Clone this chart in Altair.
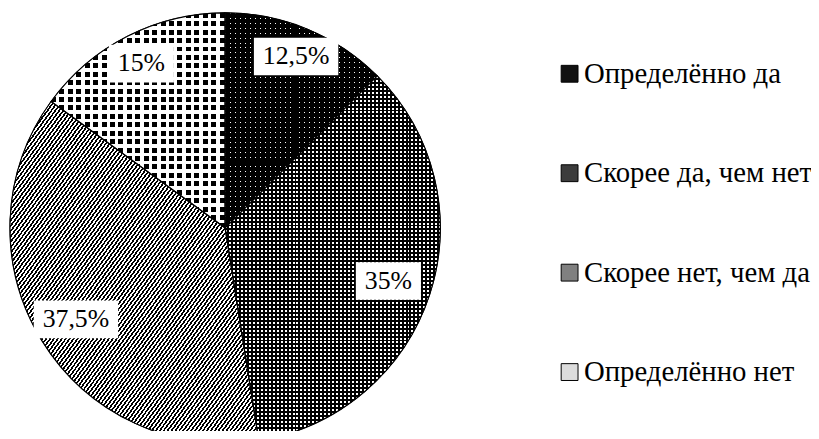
import math
import numpy as np
import pandas as pd
import altair as alt

# ---- data ----
categories = ["Определённо да", "Скорее да, чем нет", "Скорее нет, чем да", "Определённо нет"]
values = [12.5, 35, 37.5, 15]
labels = ["12,5%", "35%", "37,5%", "15%"]

# ---- layout / style ----
W, H = 810, 423
CX, CY = 219, 220
R = 217
FONT = "Liberation Serif"
LABEL_SIZE = 26
LEG_SIZE = 29
grays = ["#111111", "#3c3c3c", "#808080", "#dcdcdc"]
CHAR_W = {"0": .5, "1": .5, "2": .5, "3": .5, "4": .5, "5": .5, "6": .5, "7": .5,
          "8": .5, "9": .5, ",": .25, "%": .833}

total = sum(values)
starts = np.cumsum([0] + values[:-1])
df = pd.DataFrame({"cat": categories, "value": values, "label": labels})
df["start"] = starts
df["end"] = df["start"] + df["value"]
mid = (df["start"] + df["value"] / 2) / total * 2 * math.pi
rfac = 0.79 + 0.085 * np.cos(mid) ** 2
df["lx"] = R * rfac * np.sin(mid)
df["ly"] = R * rfac * np.cos(mid)
tw = df["label"].map(lambda s: sum(CHAR_W.get(c, .5) for c in s) * LABEL_SIZE)
bw = tw + 18
bh = 38
df["x0"] = df["lx"] - bw / 2
df["x1"] = df["lx"] + bw / 2
df["y0"] = df["ly"] - bh / 2
df["y1"] = df["ly"] + bh / 2

xs = alt.Scale(domain=[-CX, W - CX], nice=False, zero=False)
ys = alt.Scale(domain=[CY - H, CY], nice=False, zero=False)
ts = alt.Scale(domain=[0, total], range=[0, 2 * math.pi])

cx = alt.XDatum(0, scale=xs, axis=None)
cy = alt.YDatum(0, scale=ys, axis=None)


def bbox(a0, a1):
    pts = [(0.0, 0.0)]
    for a in [a0, a1] + [k * math.pi / 2 for k in range(5) if a0 < k * math.pi / 2 < a1]:
        pts.append((R * math.sin(a), -R * math.cos(a)))
    xs_ = [p[0] for p in pts]
    ys_ = [p[1] for p in pts]
    return max(xs_) - min(xs_), max(ys_) - min(ys_)


def stops(L, period, on, c_on, c_off):
    out = []
    p = 0.0
    while p < L - 1e-9:
        a = p / L
        b = min(p + on, L) / L
        c = min(p + period, L) / L
        out += [(a, c_on), (b, c_on), (b, c_off), (c, c_off)]
        p += period
    return [{"offset": round(o, 6), "color": col} for o, col in out]


def grad(direction, w, h, period, on, c_on, c_off):
    if direction == "v":
        L, x2, y2 = w, 1, 0
    elif direction == "h":
        L, x2, y2 = h, 0, 1
    else:
        L, x2, y2 = 2 * w * h / math.sqrt(w * w + h * h), 1, 1
    return {"gradient": "linear", "x1": 0, "y1": 0, "x2": x2, "y2": y2,
            "stops": stops(L, period, on, c_on, c_off)}


T = "rgba(0,0,0,0)"
patterns = [
    [("v", 5, 1, "white", "black"), ("h", 5, 1, T, "black")],
    [("v", 4, 2, "white", "black"), ("h", 4, 2, T, "black")],
    [("d", 3.2, 1.6, "black", "white")],
    [("v", 8.5, 5, "black", "white"), ("h", 8.5, 5, T, "white")],
]

base = alt.Chart(df)
arc_enc = dict(theta=alt.Theta("start:Q", scale=ts, stack=None), theta2="end:Q", x=cx, y=cy)

layers = [
    base.mark_arc(outerRadius=R, stroke="black", strokeWidth=1).encode(
        color=alt.Color("cat:N", scale=alt.Scale(domain=categories, range=grays),
                        sort=categories,
                        legend=alt.Legend(title=None, orient="none", legendX=552, legendY=50,
                                          symbolType="square", symbolSize=289,
                                          symbolStrokeColor="black", symbolStrokeWidth=1,
                                          labelFont=FONT, labelFontSize=LEG_SIZE, labelColor="black",
                                          rowPadding=70.3, labelOffset=0, labelLimit=400)),
        **arc_enc)
]

for i, cat in enumerate(categories):
    a0 = df.loc[i, "start"] / total * 2 * math.pi
    a1 = df.loc[i, "end"] / total * 2 * math.pi
    w, h = bbox(a0, a1)
    for (d, period, on, c_on, c_off) in patterns[i]:
        g = grad(d, w, h, period, on, c_on, c_off)
        layers.append(
            base.transform_filter(alt.datum.cat == cat)
            .mark_arc(outerRadius=R, fill=g)
            .encode(**arc_enc)
        )

layers.append(base.mark_arc(outerRadius=R, fillOpacity=0, stroke="black", strokeWidth=1.2).encode(**arc_enc))

layers.append(base.mark_rect(fill="white").encode(
    x=alt.X("x0:Q", scale=xs, axis=None), x2="x1:Q",
    y=alt.Y("y0:Q", scale=ys, axis=None), y2="y1:Q"))

layers.append(base.mark_text(font=FONT, fontSize=LABEL_SIZE, color="black",
                             align="center", baseline="middle").encode(
    x=alt.X("lx:Q", scale=xs, axis=None),
    y=alt.Y("ly:Q", scale=ys, axis=None),
    text="label:N"))

chart = alt.layer(*layers).properties(
    width=W, height=H, autosize="none", padding=0
).configure_view(stroke=None)

chart.save("out.html", embed_options={"renderer": "svg", "actions": False})
